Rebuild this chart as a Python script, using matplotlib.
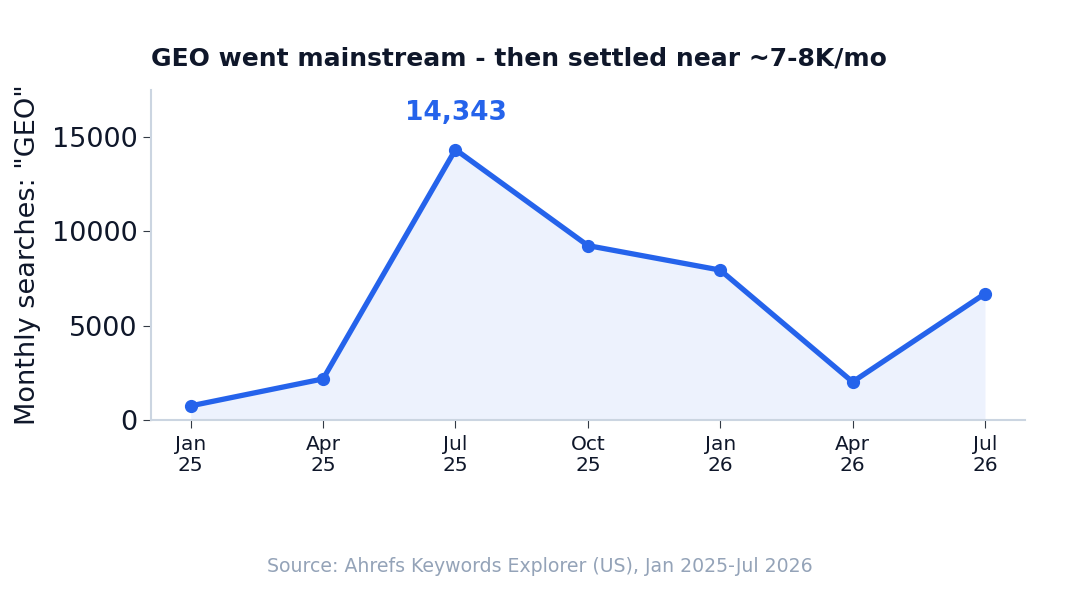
import matplotlib.pyplot as plt

months = ['Jan\n25', 'Apr\n25', 'Jul\n25', 'Oct\n25', 'Jan\n26', 'Apr\n26', 'Jul\n26']
searches = [750, 2180, 14343, 9250, 7950, 2020, 6700]

blue = '#2563eb'
dark = '#0f172a'
grid = '#cbd5e1'

fig = plt.figure(figsize=(10.8, 6), dpi=100)
ax = fig.add_axes([0.1398, 0.30, 0.809, 0.55])

x = list(range(len(months)))
ax.fill_between(x, searches, 0, color=blue, alpha=0.08, linewidth=0)
ax.plot(x, searches, '-o', color=blue, linewidth=3.8, markersize=8.5, clip_on=False)

peak = searches.index(max(searches))
ax.annotate(f'{searches[peak]:,}', (x[peak], searches[peak]), xytext=(0, 17),
            textcoords='offset points', ha='center', va='bottom',
            fontsize=19, fontweight='bold', color=blue)

ax.set_xlim(-0.3, len(months) - 0.7)
ax.set_ylim(0, 17500)
ax.set_xticks(x)
ax.set_xticklabels(months, fontsize=14.5, color=dark, linespacing=1.1)
ax.set_yticks([0, 5000, 10000, 15000])
ax.tick_params(axis='y', labelsize=19.5, labelcolor=dark, color='#333a45', length=6)
ax.tick_params(axis='x', color='#333a45', length=6, pad=5)

for s in ['top', 'right']:
    ax.spines[s].set_visible(False)
for s in ['left', 'bottom']:
    ax.spines[s].set_color(grid)
    ax.spines[s].set_linewidth(1.5)

ax.set_ylabel('Monthly searches: "GEO"', fontsize=19.5, color=dark, labelpad=8)
ax.set_title('GEO went mainstream - then settled near ~7-8K/mo', loc='left',
             fontsize=18, fontweight='bold', color=dark, pad=18)

fig.text(0.5, 0.055, 'Source: Ahrefs Keywords Explorer (US), Jan 2025-Jul 2026',
         ha='center', va='center', fontsize=13.6, color='#94a3b8')

fig.savefig('out.png', dpi=100)
